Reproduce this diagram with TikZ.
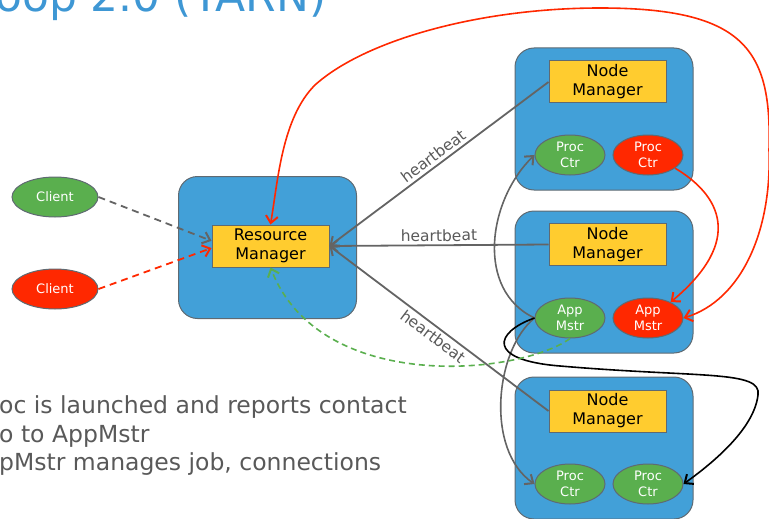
\documentclass[tikz,border=0pt]{standalone}
\usepackage{fontspec}
\setmainfont{DejaVu Sans}
\usetikzlibrary{arrows.meta,shapes.geometric}
\definecolor{boxblue}{HTML}{42A0D8}
\definecolor{nmyellow}{HTML}{FFCC2F}
\definecolor{okgreen}{HTML}{5AAF4E}
\definecolor{hotred}{HTML}{FF2800}
\definecolor{edgegray}{HTML}{646464}
\definecolor{bordergray}{HTML}{5F6A72}
\definecolor{titleblue}{HTML}{3E97D4}
\definecolor{textgray}{HTML}{595959}
\begin{document}
\begin{tikzpicture}[x=1pt,y=-1pt,
  >={Straight Barb[length=7pt,width=12pt,line width=2pt]},
  host/.style={draw=bordergray, line width=1pt, fill=boxblue, rounded corners=19pt,
    minimum width=178pt, minimum height=142pt, inner sep=0pt},
  mgr/.style={draw=bordergray, line width=1pt, fill=nmyellow, minimum width=117pt,
    minimum height=42pt, inner sep=0pt, align=center, font=\fontsize{16}{19}\selectfont},
  cont/.style={ellipse, draw=bordergray, line width=1pt, minimum width=70pt,
    minimum height=40pt, inner sep=0pt, align=center, text=white,
    font=\fontsize{13}{15.5}\selectfont},
  client/.style={cont, minimum width=86pt},
  hb/.style={draw=edgegray, line width=1.8pt, <-},
  hblabel/.style={sloped, text=textgray, font=\fontsize{15.5}{18}\selectfont, inner sep=3pt},
  grayline/.style={draw=edgegray, line width=1.6pt},
  redline/.style={draw=hotred, line width=1.6pt},
  greydash/.style={draw=edgegray, line width=1.8pt, dash pattern=on 7pt off 5pt},
  reddash/.style={draw=hotred, line width=1.8pt, dash pattern=on 7pt off 5pt},
  greendash/.style={draw=okgreen, line width=1.6pt, dash pattern=on 6pt off 4pt},
  bodytext/.style={anchor=base west, inner sep=0pt, text=textgray, font=\fontsize{23.5}{29}\selectfont}
]
\useasboundingbox (0,0) rectangle (769,519);

% title and body text
\node[anchor=base west, inner sep=0pt, text=titleblue, font=\fontsize{44}{52}\selectfont] (title) at (-5,12) {oop 2.0 (YARN)};
\node[bodytext] (body1) at (-1,413) {oc is launched and reports contact};
\node[bodytext] (body2) at (-1,442) {o to AppMstr};
\node[bodytext] (body3) at (-1,470) {pMstr manages job, connections};

% clients
\node[client, fill=okgreen] (c1) at (55,197) {Client};
\node[client, fill=hotred] (c2) at (55,289) {Client};

% resource manager
\node[host] (rmbox) at (267.5,247.5) {};
\node[mgr] (rm) at (270.5,246) {Resource\\Manager};

% node managers
\node[host] (h1) at (604,119) {};
\node[mgr] (nm1) at (607.5,82) {Node\\Manager};
\node[cont, fill=okgreen] (pc1) at (570,155) {Proc\\Ctr};
\node[cont, fill=hotred] (pc1r) at (648,155) {Proc\\Ctr};

\node[host] (h2) at (604,282) {};
\node[mgr] (nm2) at (607.5,244.5) {Node\\Manager};
\node[cont, fill=okgreen] (am) at (570,318) {App\\Mstr};
\node[cont, fill=hotred] (amr) at (648,318) {App\\Mstr};

\node[host] (h3) at (604,448) {};
\node[mgr] (nm3) at (607.5,411) {Node\\Manager};
\node[cont, fill=okgreen] (pc3a) at (570,484) {Proc\\Ctr};
\node[cont, fill=okgreen] (pc3b) at (648,484) {Proc\\Ctr};

% client requests
\draw[greydash, ->] (c1.east) -- (rm.175);
\draw[reddash, ->] (c2.east) -- (rm.182);

% heartbeats
\draw[hb] (rm.east) -- node[hblabel, above] {heartbeat} (nm1.west);
\draw[hb] (rm.east) -- node[hblabel, above] {heartbeat} (nm2.west);
\draw[hb] (rm.east) -- node[hblabel, below] {heartbeat} (nm3.west);

% app master to containers
\draw[grayline, ->] (am.west) .. controls (475,290) and (488,200) .. (pc1.west);
\draw[grayline, ->] (am.west) .. controls (495,350) and (485,450) .. (pc3a.west);
\draw[draw=black, line width=1.6pt, ->] (am.west) .. controls (495,332) and (485,360) .. (560,366)
  .. controls (700,378) and (762,370) .. (758,395)
  .. controls (754,430) and (710,465) .. (pc3b.east);

% red flows
\draw[redline, ->] (pc1r.-26) .. controls (720,195) and (745,240) .. (amr.35);
\draw[redline, <->] (amr.east) .. controls (742,300) and (772,230) .. (769,150)
  .. controls (772,50) and (745,8) .. (600,8)
  .. controls (480,8) and (365,40) .. (315,85)
  .. controls (282,118) and (278,180) .. (rm.north);

% app master reports to RM
\draw[greendash, ->] (am.south) .. controls (520,375) and (320,395) .. (rm.south);
\end{tikzpicture}
\end{document}
